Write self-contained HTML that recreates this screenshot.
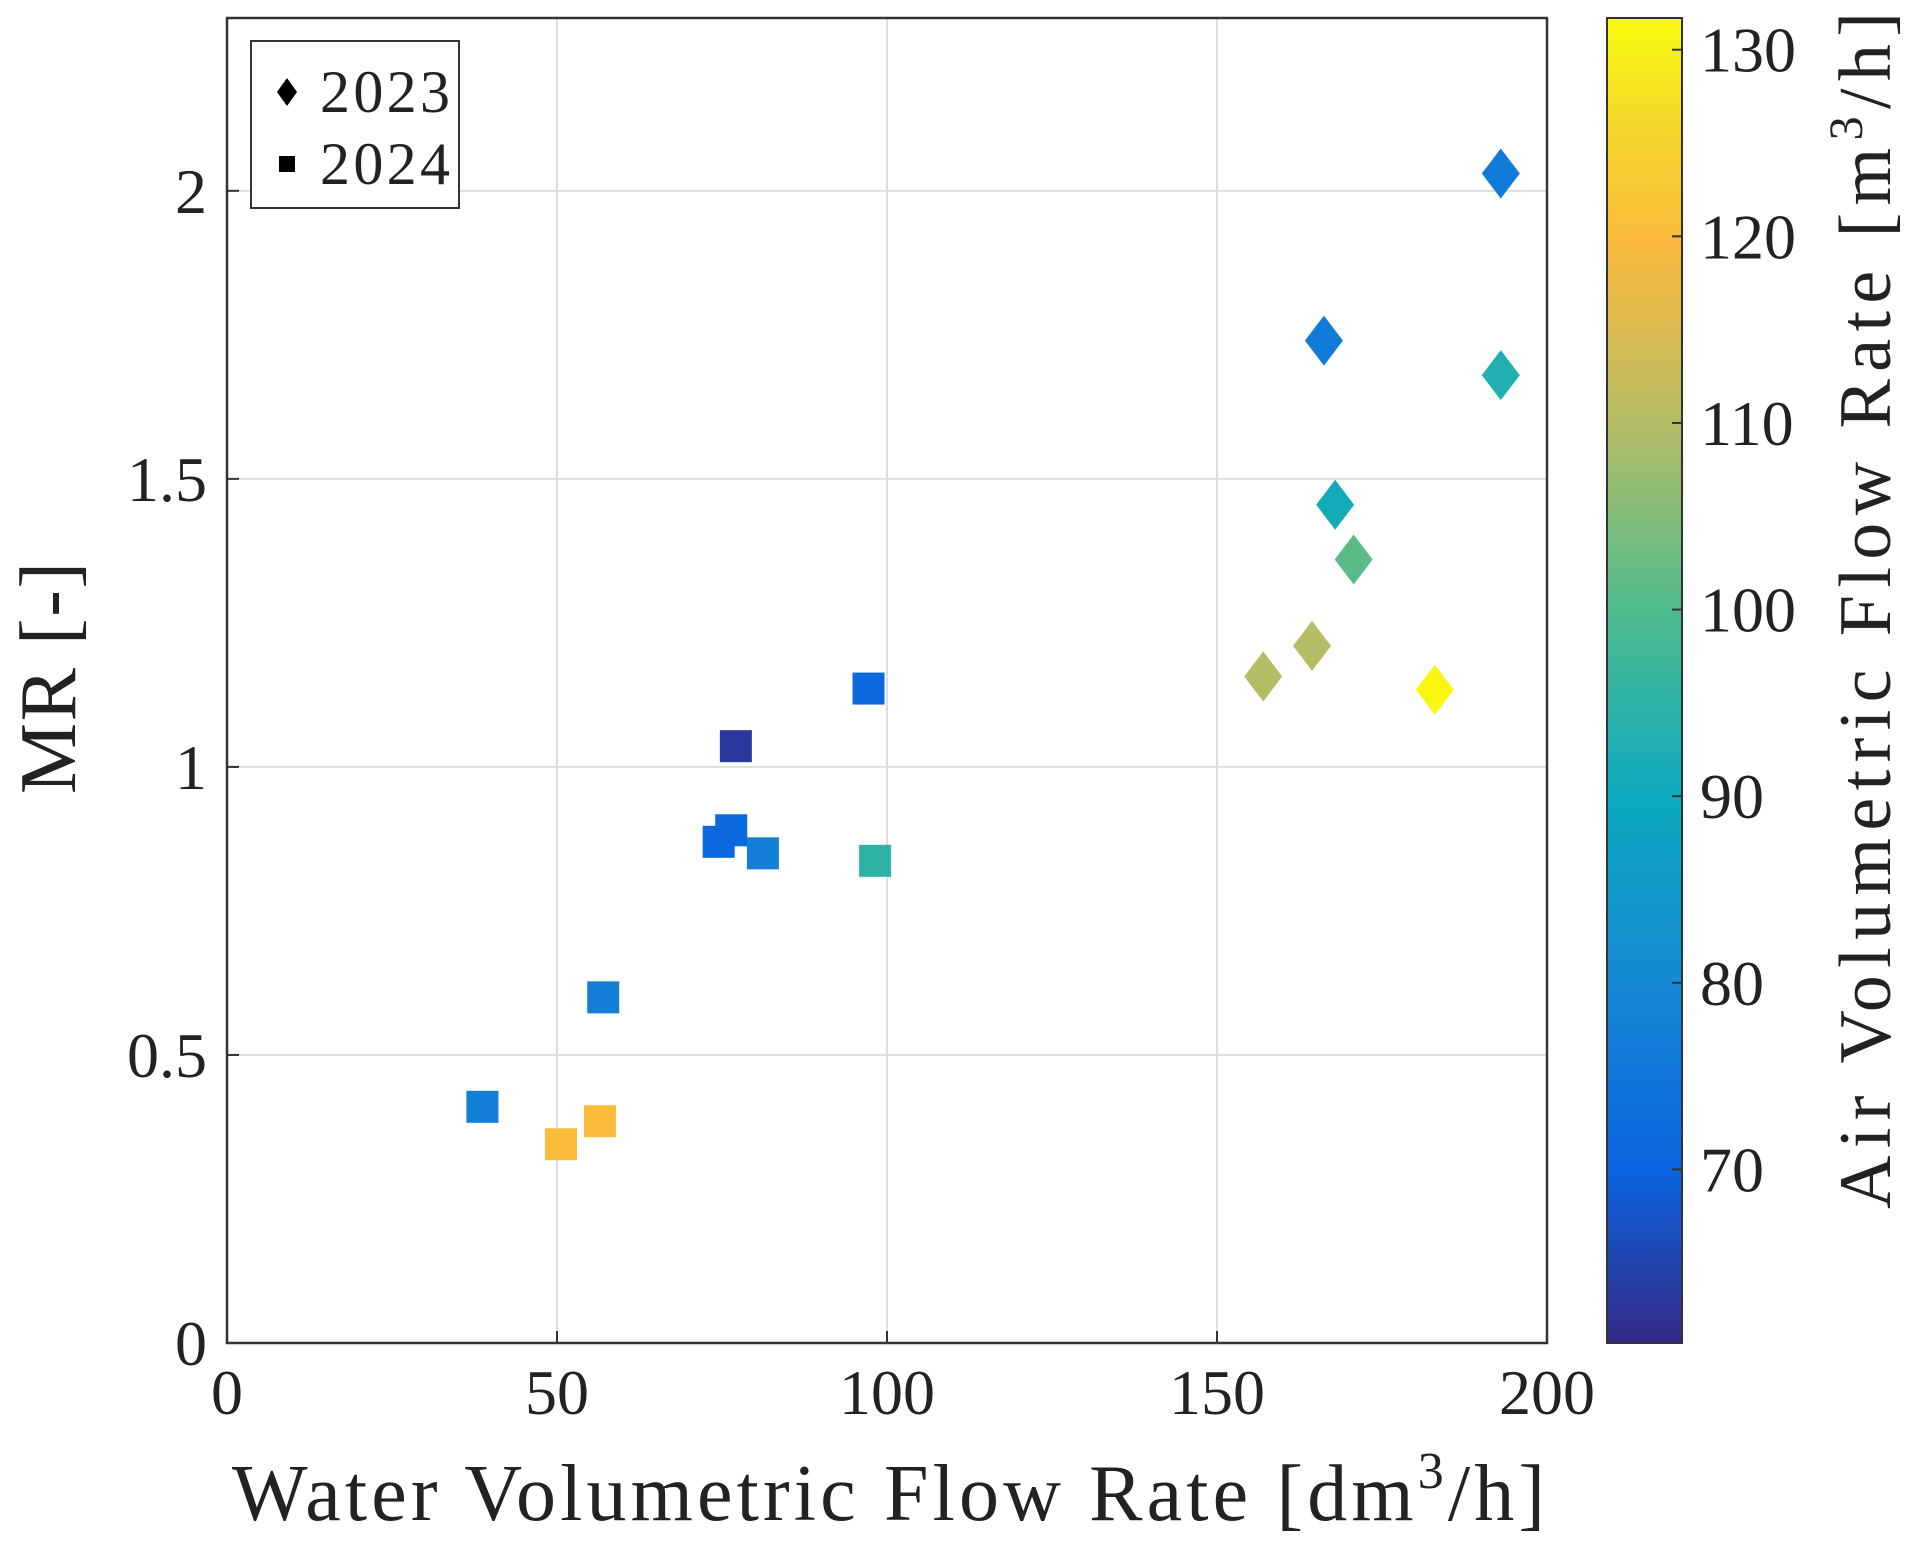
<!DOCTYPE html>
<html><head><meta charset="utf-8"><style>
html,body{margin:0;padding:0;background:#fff;}
svg{display:block;font-family:"Liberation Serif",serif;}
</style></head><body>
<svg id="chart" width="1913" height="1557" viewBox="0 0 1913 1557" xmlns="http://www.w3.org/2000/svg">
<defs>
<linearGradient id="parula" x1="0" y1="1" x2="0" y2="0">
<stop offset="0" stop-color="#352a87"/><stop offset="0.13" stop-color="#0a64e0"/><stop offset="0.27" stop-color="#1689d4"/><stop offset="0.41" stop-color="#0ca9bf"/><stop offset="0.55" stop-color="#4dbb8e"/><stop offset="0.69" stop-color="#b2bc66"/><stop offset="0.83" stop-color="#fbb93c"/><stop offset="0.92" stop-color="#f3d82a"/><stop offset="1" stop-color="#f9fb0e"/>
</linearGradient>
</defs>
<g id="grid"></g>
<g id="marks"></g>
<g id="axes"></g>
<g>
<rect x="251" y="41" width="208" height="167" fill="#fff" stroke="#333" stroke-width="2"/>
<polygon points="287,78 297,92 287,106 277,92" fill="#000"/>
<text x="320" y="112" font-size="60" fill="#222" textLength="130">2023</text>
<rect x="279" y="156" width="16" height="16" fill="#000"/>
<text x="320" y="184" font-size="60" fill="#222" textLength="130">2024</text>
</g>
<rect x="1607" y="18" width="75" height="1325" fill="url(#parula)" stroke="#333" stroke-width="2"/>
<g id="cbticks"></g>
<text x="232" y="1520" font-size="80" fill="#222" textLength="1313" lengthAdjust="spacing">Water Volumetric Flow Rate [dm<tspan font-size="52" dy="-32">3</tspan><tspan dy="32">/h]</tspan></text>
<text transform="translate(75,794) rotate(-90)" font-size="80" fill="#222" textLength="232" lengthAdjust="spacing">MR [-]</text>
<text transform="translate(1890,1209) rotate(-90)" font-size="74" fill="#222" textLength="1197" lengthAdjust="spacing">Air Volumetric Flow Rate [m<tspan font-size="48" dy="-28">3</tspan><tspan dy="28">/h]</tspan></text>
</svg>
<script>
const xTicks = [0, 50, 100, 150, 200];
const yTicks = [0, 0.5, 1, 1.5, 2];
const yTickLabels = ["0", "0.5", "1", "1.5", "2"];
const cTicks = [70, 80, 90, 100, 110, 120, 130];
const x2023 = [193, 166.2, 193, 167.9, 170.7, 164.4, 157, 183];
const y2023 = [2.03, 1.74, 1.68, 1.455, 1.36, 1.21, 1.157, 1.134];
const c2023 = [76, 76, 93, 91, 101, 110, 110, 131];
const x2024 = [97.2, 77.1, 76.4, 74.5, 81.2, 98.2, 57, 38.7, 56.5, 50.6];
const y2024 = [1.136, 1.036, 0.89, 0.87, 0.85, 0.837, 0.6, 0.41, 0.385, 0.345];
const c2024 = [71, 63, 71, 71, 77, 95, 77, 77, 120, 120];

const X0=227, X1=1547, Y0=1343, Y1=18, XMAX=200, YMAX=2.3, CMIN=60.7, CMAX=131.7;
const sx = v => X0 + v/XMAX*(X1-X0);
const sy = v => Y0 - v/YMAX*(Y0-Y1);
const sc = v => Y0 - (v-CMIN)/(CMAX-CMIN)*(Y0-Y1);
const NS="http://www.w3.org/2000/svg";
function mk(tag, attrs, parent){const e=document.createElementNS(NS,tag);for(const k in attrs)e.setAttribute(k,attrs[k]);parent.appendChild(e);return e;}
const stops=[[0,[53,42,135]],[0.13,[10,100,224]],[0.27,[22,137,212]],[0.41,[12,169,191]],[0.55,[77,187,142]],[0.69,[178,188,102]],[0.83,[251,185,60]],[0.92,[243,216,42]],[1,[249,251,14]]];
function cmap(v){let t=Math.max(0,Math.min(1,(v-CMIN)/(CMAX-CMIN)));for(let i=1;i<stops.length;i++){if(t<=stops[i][0]){const a=stops[i-1],b=stops[i];const f=(t-a[0])/(b[0]-a[0]);const c=a[1].map((x,j)=>Math.round(x+(b[1][j]-x)*f));return `rgb(${c.join(',')})`;}}return 'rgb(249,251,14)';}

const grid=document.getElementById('grid'), axes=document.getElementById('axes'), marks=document.getElementById('marks'), cb=document.getElementById('cbticks');
xTicks.forEach(v=>{
  let l=mk('line',{x1:sx(v),x2:sx(v),y1:Y1,y2:Y0,stroke:'#ddd','stroke-width':2},grid);
  
  
  let t=mk('text',{x:sx(v),y:1414,'font-size':64,'text-anchor':'middle',fill:'#222'},axes);
  t.textContent=v;
  
  
  mk('line',{x1:sx(v),x2:sx(v),y1:Y0,y2:Y0-12,stroke:'#333','stroke-width':2},axes);
});
yTicks.forEach((v,i)=>{
  let l=mk('line',{x1:X0,x2:X1,y1:sy(v),y2:sy(v),stroke:'#ddd','stroke-width':2},grid);
  
  
  let t=mk('text',{x:207,y:sy(v)+22,'font-size':64,'text-anchor':'end',fill:'#222'},axes);
  t.textContent=yTickLabels[i];
  
  
  mk('line',{x1:X0,x2:X0+12,y1:sy(v),y2:sy(v),stroke:'#333','stroke-width':2},axes);
});
let frame=mk('rect',{x:X0,y:Y1,width:X1-X0,height:Y0-Y1,fill:'none',stroke:'#333','stroke-width':2.5},axes);


cTicks.forEach(v=>{
  mk('line',{x1:1682,x2:1672,y1:sc(v),y2:sc(v),stroke:'#333','stroke-width':2},cb);
  let t=mk('text',{x:1700,y:sc(v)+22,'font-size':64,fill:'#222'},cb);
  t.textContent=v;
  
  
});
x2023.forEach((v,i)=>{
  const cx=sx(v), cy=sy(y2023[i]);
  let p=mk('polygon',{points:`${cx},${cy-25} ${cx+19},${cy} ${cx},${cy+25} ${cx-19},${cy}`,fill:cmap(c2023[i])},marks);
  
  
});
x2024.forEach((v,i)=>{
  const cx=sx(v), cy=sy(y2024[i]);
  let p=mk('rect',{x:cx-16,y:cy-16,width:32,height:32,fill:cmap(c2024[i])},marks);
  
  
});
</script>
</body></html>
